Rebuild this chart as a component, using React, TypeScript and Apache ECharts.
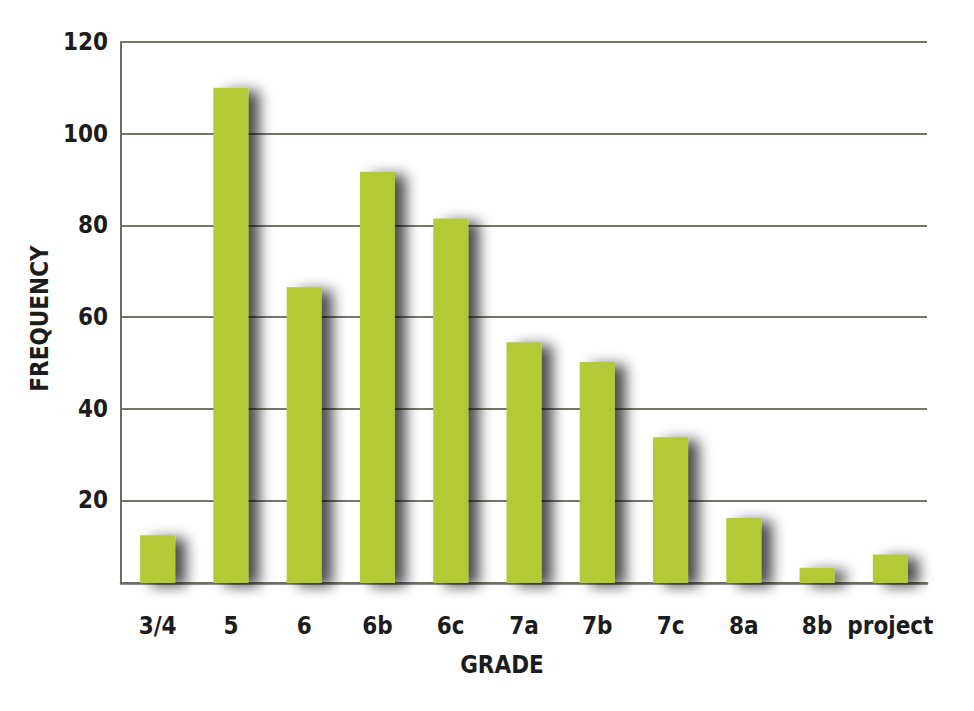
import { useEffect, useRef } from 'react';
import * as echarts from 'echarts';

const grades = ['3/4', '5', '6', '6b', '6c', '7a', '7b', '7c', '8a', '8b', 'project'];
const frequency = [12.4, 110, 66.5, 91.7, 81.5, 54.5, 50.2, 33.8, 16.2, 5.3, 8.2];
const yMin = 2;
const yMax = 120;

const FONT = "'Liberation Sans Narrow', 'Arial Narrow', 'DejaVu Sans Condensed', sans-serif";
const textStyle = {
  fontFamily: FONT,
  fontWeight: 'bold' as const,
  fontSize: 24,
  color: '#1c1c1c',
};

export default function App() {
  const ref = useRef<HTMLDivElement>(null);

  useEffect(() => {
    if (!ref.current) return;
    const chart = echarts.init(ref.current, null, { renderer: 'svg' });
    chart.setOption({
      animation: false,
      backgroundColor: '#ffffff',
      grid: { left: 121, right: 47, top: 42, bottom: 128, containLabel: false },
      xAxis: {
        type: 'category',
        data: grades,
        name: 'GRADE',
        nameLocation: 'middle',
        nameGap: 70,
        nameTextStyle: { ...textStyle, padding: [0, 44, 0, 0] },
        axisLine: { lineStyle: { color: '#6e6e64', width: 2.5 } },
        axisTick: { show: false },
        axisLabel: { ...textStyle, margin: 31, interval: 0 },
      },
      yAxis: {
        type: 'value',
        min: yMin,
        max: yMax,
        splitNumber: 6,
        name: 'FREQUENCY',
        nameLocation: 'middle',
        nameGap: 58,
        nameRotate: 90,
        nameTextStyle: { ...textStyle, padding: [0, 12, 0, 0] },
        axisLine: { show: true, lineStyle: { color: '#6e6e64', width: 2 } },
        axisTick: { show: false },
        axisLabel: {
          ...textStyle,
          margin: 13,
          formatter: (v: number) => (v % 20 === 0 ? String(v) : ''),
        },
        splitLine: { lineStyle: { color: '#75756b', width: 2 } },
      },
      series: [
        {
          type: 'bar',
          data: frequency,
          barWidth: 35,
          itemStyle: {
            color: '#b3c935',
            shadowColor: 'rgba(0,0,0,0.7)',
            shadowBlur: 14,
            shadowOffsetX: 11,
            shadowOffsetY: 3,
          },
        },
      ],
    });
    return () => chart.dispose();
  }, []);

  return <div ref={ref} style={{ width: 974, height: 711, margin: -8 }} />;
}
